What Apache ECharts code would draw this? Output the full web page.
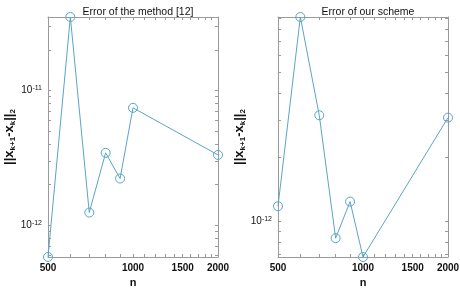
<!DOCTYPE html>
<html>
<head>
<meta charset="utf-8">
<script src="https://cdn.jsdelivr.net/npm/echarts@6/dist/echarts.min.js"></script>
<style>
html,body{margin:0;padding:0;background:#fff;}
#chart{width:460px;height:290px;}
</style>
</head>
<body>
<div id="chart"></div>
<script>
// ---- data ----
const nValues = [500, 600, 700, 800, 900, 1000, 2000];
const errMethod12 = [5.8e-13, 3.51e-11, 1.24e-12, 3.44e-12, 2.22e-12, 7.43e-12, 3.32e-12];
const errOurScheme = [1.18e-12, 9.1e-12, 3.15e-12, 0.836e-12, 1.24e-12, 0.682e-12, 3.07e-12];
const titles = ['Error of the method [12]', 'Error of our scheme'];
const xLabelValues = [500, 1000, 1500, 2000];
const xTickValues = [500, 600, 700, 800, 900, 1000, 1100, 1200, 1300, 1400, 1500, 1600, 1700, 1800, 1900, 2000];
const yLabelValuesLeft = [1e-12, 1e-11];
const yTickValuesLeft = [6e-13, 7e-13, 8e-13, 9e-13, 1e-12, 2e-12, 3e-12, 4e-12, 5e-12, 6e-12, 7e-12, 8e-12, 9e-12, 1e-11, 2e-11, 3e-11];
const yLabelValuesRight = [1e-12];
const yTickValuesRight = [7e-13, 8e-13, 9e-13, 1e-12, 2e-12, 3e-12, 4e-12, 5e-12, 6e-12, 7e-12, 8e-12, 9e-12];
const xName = 'n';

const lineColor = '#5aa5c9';
const axisColor = '#9a9a9a';
const FONT = 'Liberation Sans, Arial';
const grids = [
  {left: 48, top: 17, width: 170, height: 240, outerBoundsMode: 'none', containLabel: false},
  {left: 278, top: 17, width: 170, height: 240, outerBoundsMode: 'none', containLabel: false}
];

function xAxisDef(gi, pos) {
  const main = pos === 'bottom';
  return {
    type: 'log', gridIndex: gi, position: pos,
    min: Math.min(...nValues), max: Math.max(...nValues),
    axisLine: {show: true, onZero: false, lineStyle: {color: axisColor, width: 1}},
    axisTick: {show: true, inside: true, length: 3, customValues: xTickValues, lineStyle: {color: axisColor}},
    axisLabel: {show: main, customValues: xLabelValues, color: '#111', fontSize: 10, fontFamily: FONT, fontWeight: 'bold', margin: 6,
      formatter: v => String(Math.round(v))},
    splitLine: {show: false},
    name: main ? xName : '', nameLocation: 'middle', nameGap: 20,
    nameTextStyle: {color: '#111', fontSize: 11, fontFamily: FONT, fontWeight: 'bold'}
  };
}
function yAxisDef(gi, pos, data, ticks, labels) {
  const main = pos === 'left';
  return {
    type: 'log', gridIndex: gi, position: pos,
    min: Math.min(...data), max: Math.max(...data),
    axisLine: {show: true, onZero: false, lineStyle: {color: axisColor, width: 1}},
    axisTick: {show: true, inside: true, length: 3, customValues: ticks, lineStyle: {color: axisColor}},
    axisLabel: {show: main, customValues: labels, margin: 6,
      formatter: v => '{b|10}{s|' + Math.round(Math.log10(v)) + '}',
      rich: {
        b: {fontSize: 10, color: '#111', fontFamily: FONT},
        s: {fontSize: 7, color: '#111', fontFamily: FONT, verticalAlign: 'top', padding: [0, 0, 5, 0]}
      }},
    splitLine: {show: false},
    name: main ? '{a|||x}{s|k+1}{a|-x}{s|k}{a|||}{s|2}' : '',
    nameLocation: 'middle', nameGap: 29, nameRotate: 90,
    nameTextStyle: {
      rich: {
        a: {fontSize: 13, fontWeight: 'bold', color: '#111', fontFamily: FONT},
        s: {fontSize: 8, fontWeight: 'bold', color: '#111', fontFamily: FONT, verticalAlign: 'bottom', padding: [6, 0, 0, 0]}
      }
    }
  };
}

function seriesDef(xi, yi, vals) {
  return {
    type: 'line', xAxisIndex: xi, yAxisIndex: yi,
    data: nValues.map((n, i) => [n, vals[i]]),
    symbol: 'circle', symbolSize: 9, clip: false,
    lineStyle: {color: lineColor, width: 1},
    itemStyle: {color: 'rgba(255,255,255,0)', borderColor: lineColor, borderWidth: 1}
  };
}

const chart = echarts.init(document.getElementById('chart'), null, {renderer: 'canvas'});
chart.setOption({
  backgroundColor: '#fff',
  animation: false,
  title: titles.map((t, i) => ({
    text: t,
    left: grids[i].left + grids[i].width / 2,
    textAlign: 'center',
    top: 2,
    textStyle: {fontSize: 10.5, fontWeight: 'normal', color: '#111', fontFamily: FONT}
  })),
  grid: grids,
  xAxis: [xAxisDef(0, 'bottom'), xAxisDef(0, 'top'), xAxisDef(1, 'bottom'), xAxisDef(1, 'top')],
  yAxis: [
    yAxisDef(0, 'left', errMethod12, yTickValuesLeft, yLabelValuesLeft),
    yAxisDef(0, 'right', errMethod12, yTickValuesLeft, yLabelValuesLeft),
    yAxisDef(1, 'left', errOurScheme, yTickValuesRight, yLabelValuesRight),
    yAxisDef(1, 'right', errOurScheme, yTickValuesRight, yLabelValuesRight)
  ],
  series: [seriesDef(0, 0, errMethod12), seriesDef(2, 2, errOurScheme)]
});
</script>
</body>
</html>
